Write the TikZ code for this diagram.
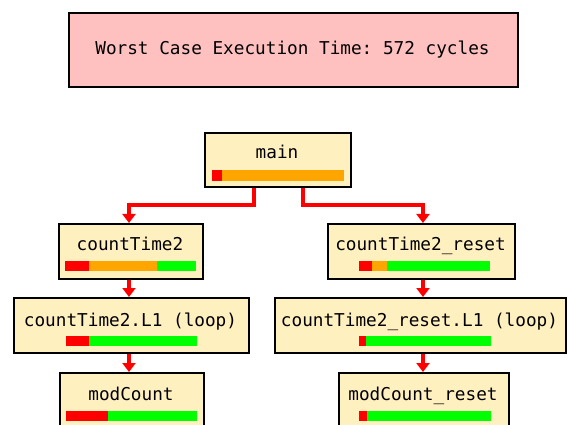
\documentclass[tikz,border=0pt]{standalone}
\usepackage{fontspec}
\setmonofont{DejaVu Sans Mono}
\usetikzlibrary{arrows.meta,calc}
\definecolor{titlefill}{HTML}{FFC0C0}
\definecolor{boxfill}{HTML}{FFF0C0}
\definecolor{barred}{HTML}{FF0000}
\definecolor{barorange}{HTML}{FFA500}
\definecolor{bargreen}{HTML}{00FF00}
\tikzset{
  fnbox/.style={draw=black, line width=2.2pt, fill=boxfill, inner sep=0pt, anchor=north west},
  titlebox/.style={draw=black, line width=2.2pt, fill=titlefill, inner sep=0pt, anchor=north west},
  lbl/.style={font=\ttfamily\fontsize{17.7}{17.7}\selectfont, inner sep=0pt, anchor=base},
  conn/.style={draw=barred, line width=3.5pt, -{Triangle[width=13pt,length=9pt]}},
}
\begin{document}
\begin{tikzpicture}[x=1pt,y=-1pt]
\useasboundingbox (0,0) rectangle (568,425);
% title
\node[titlebox, minimum width=449pt, minimum height=74pt] (title) at (68,12) {};
\node[lbl] (titletxt) at (292.5,55) {Worst Case Execution Time: 572 cycles};
% boxes
\node[fnbox, minimum width=146pt, minimum height=54pt] (main) at (204,132) {};
\node[fnbox, minimum width=144pt, minimum height=55pt] (ct2) at (58,223) {};
\node[fnbox, minimum width=187pt, minimum height=55pt] (ct2r) at (327,223) {};
\node[fnbox, minimum width=235pt, minimum height=55pt] (l1) at (13,297) {};
\node[fnbox, minimum width=291pt, minimum height=55pt] (l1r) at (274,297) {};
\node[fnbox, minimum width=144pt, minimum height=56pt] (mc) at (59,372) {};
\node[fnbox, minimum width=170pt, minimum height=56pt] (mcr) at (338,372) {};
% labels
\node[lbl] (tmain) at (277,159) {main};
\node[lbl] (tct2) at (130,251) {countTime2};
\node[lbl] (tct2r) at (420.5,251) {countTime2\_reset};
\node[lbl] (tl1) at (130.5,326) {countTime2.L1 (loop)};
\node[lbl] (tl1r) at (419.5,326) {countTime2\_reset.L1 (loop)};
\node[lbl] (tmc) at (131,400) {modCount};
\node[lbl] (tmcr) at (423,400) {modCount\_reset};
% bars
\fill[barred] (212,170) rectangle (222,181);
\fill[barorange] (222,170) rectangle (344,181);
\fill[barred] (65,261) rectangle (89,271);
\fill[barorange] (89,261) rectangle (157,271);
\fill[bargreen] (157,261) rectangle (196,271);
\fill[barred] (359,261) rectangle (372,271);
\fill[barorange] (372,261) rectangle (387,271);
\fill[bargreen] (387,261) rectangle (490,271);
\fill[barred] (66,336) rectangle (89,346);
\fill[bargreen] (89,336) rectangle (197,346);
\fill[barred] (359,336) rectangle (366,346);
\fill[bargreen] (366,336) rectangle (491,346);
\fill[barred] (66,411) rectangle (108,421);
\fill[bargreen] (108,411) rectangle (197,421);
\fill[barred] (359,411) rectangle (367,421);
\fill[bargreen] (367,411) rectangle (491,421);
% connectors
\coordinate (lt) at (129,223);
\coordinate (rt) at (423,223);
\draw[conn] ([xshift=-24pt]main.south) |- (129,205) -- (lt);
\draw[conn] ([xshift=25pt]main.south) |- (423,205) -- (rt);
\draw[conn] (ct2.south -| lt) -- (l1.north -| lt);
\draw[conn] (l1.south -| lt) -- (mc.north -| lt);
\draw[conn] (ct2r.south -| rt) -- (l1r.north -| rt);
\draw[conn] (l1r.south -| rt) -- (mcr.north -| rt);
\end{tikzpicture}
\end{document}
